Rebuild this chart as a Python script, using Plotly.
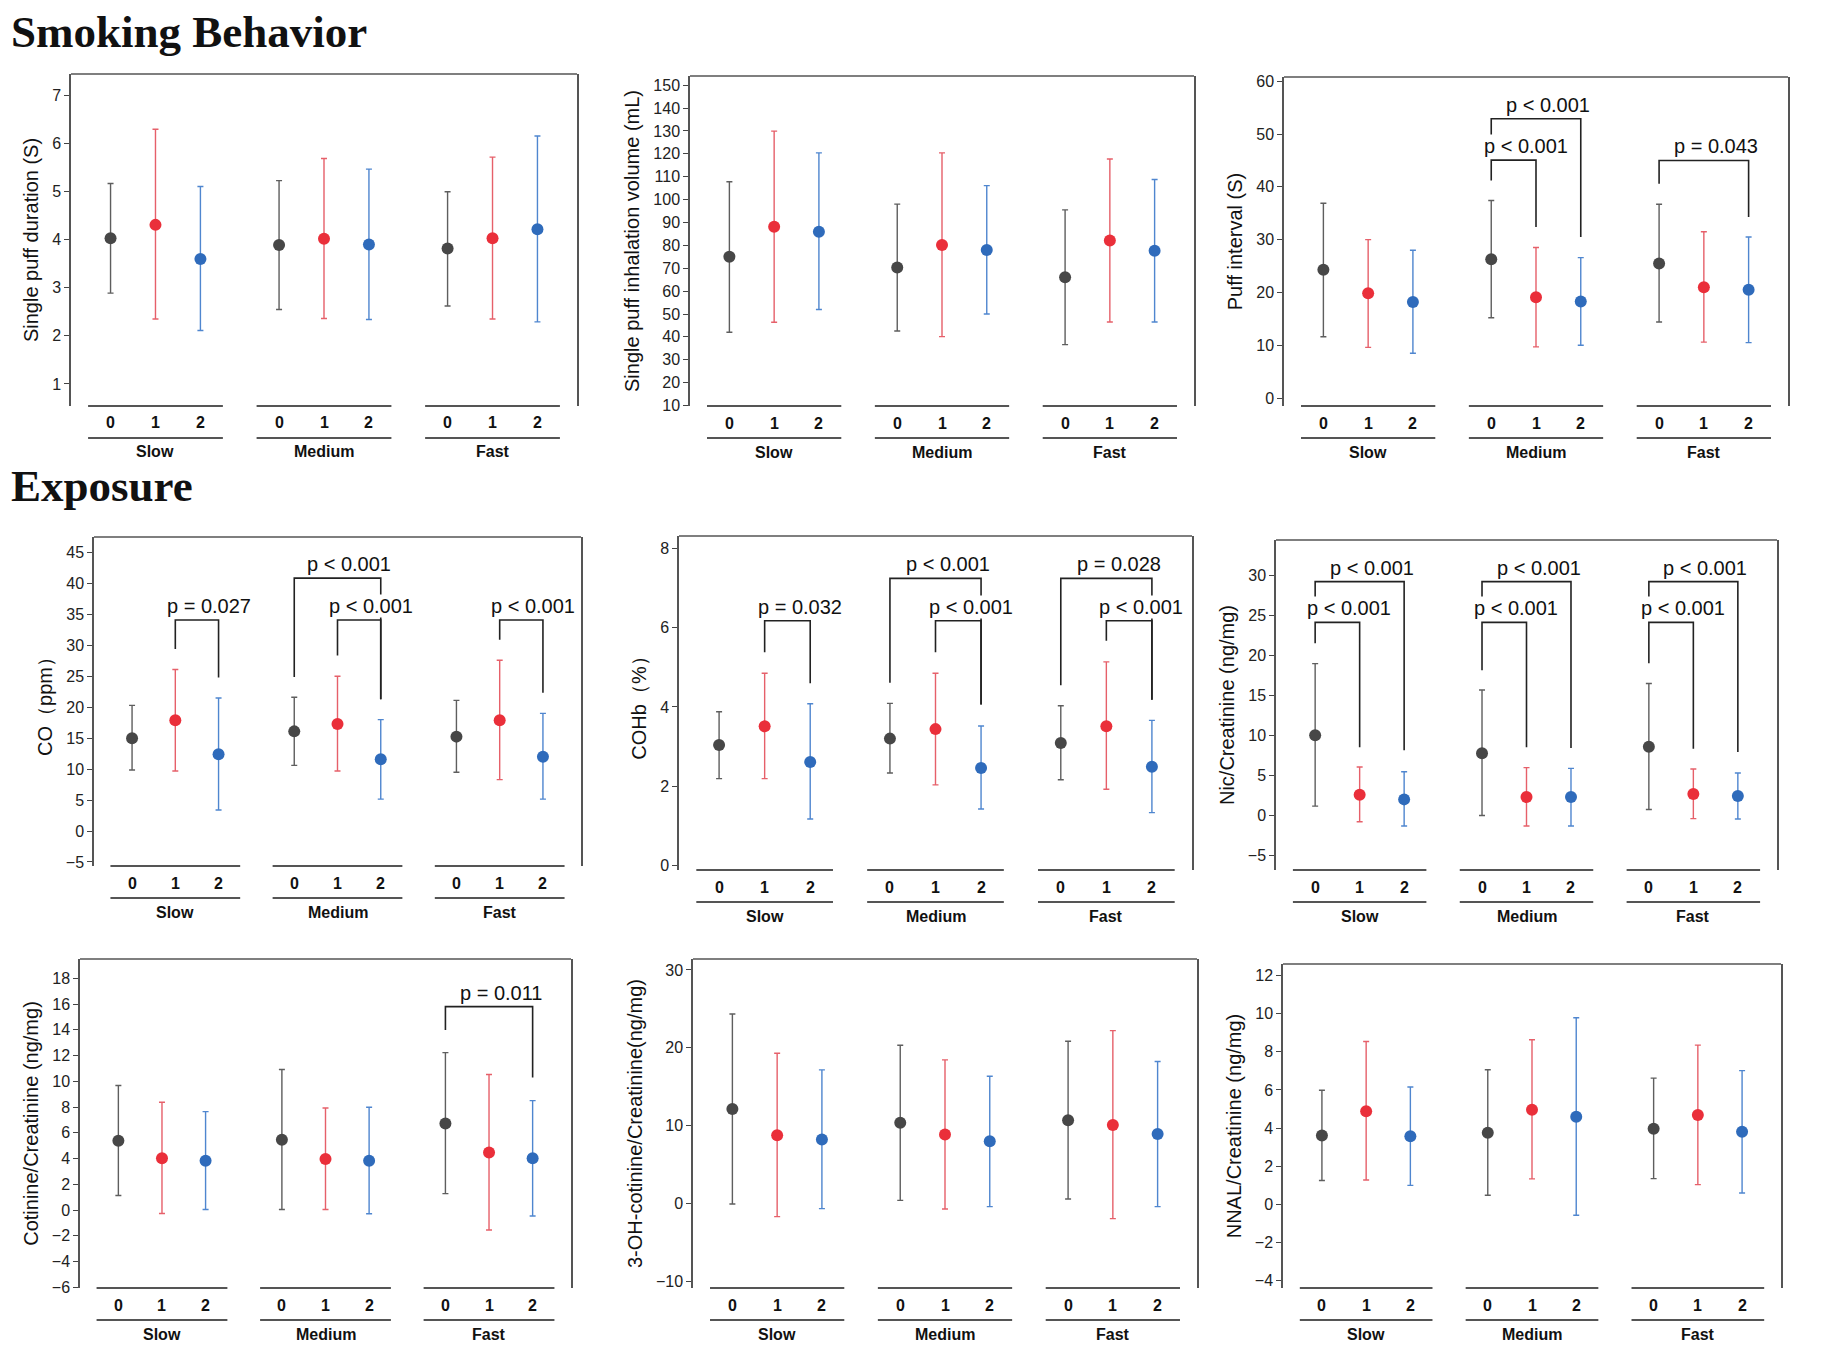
import plotly.graph_objects as go

# order inside every panel: Slow 0,1,2 | Medium 0,1,2 | Fast 0,1,2
groups = ["Slow", "Medium", "Fast"]
cats = ["0", "1", "2"]

puff_dur_mean = [4.03, 4.31, 3.60, 3.89, 4.02, 3.90, 3.82, 4.03, 4.22]
puff_dur_low = [2.89, 2.35, 2.11, 2.55, 2.36, 2.34, 2.62, 2.35, 2.29]
puff_dur_high = [5.17, 6.30, 5.11, 5.23, 5.69, 5.47, 5.00, 5.72, 6.16]

puff_vol_mean = [75.0, 88.1, 85.9, 70.3, 80.2, 78.0, 66.1, 82.1, 77.6]
puff_vol_low = [42.0, 46.4, 52.0, 42.6, 40.1, 50.0, 36.6, 46.5, 46.5]
puff_vol_high = [107.8, 129.9, 120.4, 98.0, 120.4, 106.1, 95.5, 117.7, 108.8]

puff_int_mean = [24.3, 19.85, 18.2, 26.3, 19.1, 18.3, 25.5, 21.0, 20.5]
puff_int_low = [11.6, 9.6, 8.5, 15.2, 9.7, 10.0, 14.4, 10.6, 10.5]
puff_int_high = [36.9, 30.0, 28.0, 37.4, 28.5, 26.6, 36.7, 31.5, 30.5]

co_mean = [15.0, 17.9, 12.4, 16.1, 17.3, 11.6, 15.25, 17.9, 12.0]
co_low = [9.85, 9.7, 3.4, 10.6, 9.7, 5.15, 9.5, 8.3, 5.15]
co_high = [20.3, 26.1, 21.5, 21.6, 25.0, 18.0, 21.1, 27.6, 19.0]

cohb_mean = [3.04, 3.51, 2.61, 3.20, 3.44, 2.46, 3.09, 3.51, 2.49]
cohb_low = [2.19, 2.19, 1.17, 2.33, 2.03, 1.42, 2.16, 1.92, 1.33]
cohb_high = [3.88, 4.85, 4.08, 4.09, 4.85, 3.52, 4.03, 5.14, 3.66]

nic_mean = [10.0, 2.56, 1.97, 7.75, 2.27, 2.27, 8.56, 2.64, 2.39]
nic_low = [1.13, -0.82, -1.36, -0.05, -1.36, -1.36, 0.70, -0.44, -0.49]
nic_high = [18.94, 6.02, 5.43, 15.65, 5.94, 5.85, 16.45, 5.77, 5.26]

cot_mean = [5.38, 4.02, 3.84, 5.46, 3.97, 3.84, 6.72, 4.48, 4.02]
cot_low = [1.13, -0.26, 0.05, 0.05, 0.05, -0.28, 1.28, -1.54, -0.46]
cot_high = [9.68, 8.37, 7.65, 10.92, 7.93, 7.99, 12.23, 10.53, 8.50]

ohcot_mean = [12.13, 8.76, 8.21, 10.38, 8.85, 8.00, 10.68, 10.08, 8.93]
ohcot_low = [-0.06, -1.68, -0.66, 0.40, -0.70, -0.40, 0.58, -1.94, -0.40]
ohcot_high = [24.33, 19.30, 17.16, 20.32, 18.44, 16.35, 20.83, 22.20, 18.23]

nnal_mean = [3.61, 4.88, 3.57, 3.76, 4.96, 4.60, 3.97, 4.69, 3.81]
nnal_low = [1.25, 1.28, 1.00, 0.48, 1.34, -0.57, 1.35, 1.04, 0.60]
nnal_high = [5.98, 8.54, 6.15, 7.06, 8.63, 9.78, 6.62, 8.35, 7.01]

# brackets: (group, cat_a, cat_b, top, end_a, end_b, label)
puff_int_sig = [(1, 0, 2, 52.9, 49.1, 30.5, "p < 0.001"),
                (1, 0, 1, 45.05, 41.2, 32.4, "p < 0.001"),
                (2, 0, 2, 45.0, 40.6, 34.3, "p = 0.043")]
co_sig = [(0, 1, 2, 34.1, 29.4, 24.8, "p = 0.027"),
          (1, 0, 2, 40.85, 24.9, 21.3, "p < 0.001"),
          (1, 1, 2, 34.1, 28.35, 21.3, "p < 0.001"),
          (2, 1, 2, 34.1, 30.9, 22.35, "p < 0.001")]
cohb_sig = [(0, 1, 2, 6.18, 5.38, 4.60, "p = 0.032"),
            (1, 0, 2, 7.25, 4.61, 4.06, "p < 0.001"),
            (1, 1, 2, 6.18, 5.38, 4.06, "p < 0.001"),
            (2, 0, 2, 7.25, 4.55, 4.18, "p = 0.028"),
            (2, 1, 2, 6.18, 5.67, 4.18, "p < 0.001")]
nic_sig = [(0, 0, 2, 29.2, 26.7, 8.1, "p < 0.001"),
           (0, 0, 1, 24.1, 21.5, 8.5, "p < 0.001"),
           (1, 0, 2, 29.2, 26.7, 8.4, "p < 0.001"),
           (1, 0, 1, 24.1, 18.1, 8.5, "p < 0.001"),
           (2, 0, 2, 29.2, 26.7, 7.9, "p < 0.001"),
           (2, 0, 1, 24.1, 19.0, 8.3, "p < 0.001")]
cot_sig = [(2, 0, 2, 15.8, 13.98, 10.3, "p = 0.011")]

W, H = 1826, 1371
GAP = 3.75
FONT = "Liberation Sans, Arial, sans-serif"
SERIF = "Liberation Serif, Times New Roman, serif"
marker_col = ["#474747", "#ea2f3a", "#2f6bbb"]
bar_col = ["#5e5e5e", "#e6606a", "#4f86cf"]

# panel: title, mean, low, high, y range, ticks, brackets, box (x0, x1, top, bottom) px
panels = [
    ("Single puff duration (S)", puff_dur_mean, puff_dur_low, puff_dur_high,
     [0.54, 7.45], (1, 7, 1), [], (63, 569, 66, 398)),
    ("Single puff inhalation volume (mL)", puff_vol_mean, puff_vol_low, puff_vol_high,
     [9.8, 154], (20, 150, 10), [], (682, 1186, 68, 398)),
    ("Puff interval (S)", puff_int_mean, puff_int_low, puff_int_high,
     [-1.5, 60.8], (0, 60, 10), puff_int_sig, (1276, 1780, 69, 398)),
    ("CO（ppm）", co_mean, co_low, co_high,
     [-5.65, 47.5], (-5, 45, 5), co_sig, (86, 573, 529, 858)),
    ("COHb（%）", cohb_mean, cohb_low, cohb_high,
     [-0.12, 8.32], (0, 8, 2), cohb_sig, (671, 1184, 528, 862)),
    ("Nic/Creatinine (ng/mg)", nic_mean, nic_low, nic_high,
     [-6.86, 34.4], (-5, 30, 5), nic_sig, (1268, 1769, 532, 862)),
    ("Cotinine/Creatinine (ng/mg)", cot_mean, cot_low, cot_high,
     [-6.05, 19.5], (-6, 18, 2), cot_sig, (72, 563, 951, 1280)),
    ("3-OH-cotinine/Creatinine(ng/mg)", ohcot_mean, ohcot_low, ohcot_high,
     [-10.85, 31.4], (-10, 30, 10), [], (685, 1189, 951, 1280)),
    ("NNAL/Creatinine (ng/mg)", nnal_mean, nnal_low, nnal_high,
     [-4.38, 12.6], (-4, 12, 2), [], (1275, 1773, 956, 1280)),
]

fig = go.Figure()
shapes = []
annotations = []
layout = {}

for i, (title, mean, low, high, yr, tk, sig, box) in enumerate(panels):
    n = "" if i == 0 else str(i + 1)
    xa, ya = "x" + n, "y" + n
    x0, x1, top, bot = box

    for c in range(3):
        xs = [g * GAP + c for g in range(3)]
        m = [mean[g * 3 + c] for g in range(3)]
        lo = [low[g * 3 + c] for g in range(3)]
        hi = [high[g * 3 + c] for g in range(3)]
        fig.add_trace(go.Scatter(
            x=xs, y=m, mode="markers", xaxis=xa, yaxis=ya, showlegend=False,
            marker=dict(color=marker_col[c], size=12),
            error_y=dict(type="data", symmetric=False,
                         array=[h - v for h, v in zip(hi, m)],
                         arrayminus=[v - l for v, l in zip(m, lo)],
                         color=bar_col[c], thickness=1.4, width=3),
            cliponaxis=False))

    layout["xaxis" + n] = dict(domain=[x0 / W, x1 / W], range=[-0.88, 2 * GAP + 2.88],
                               anchor=ya, visible=False, fixedrange=True)
    layout["yaxis" + n] = dict(
        domain=[1 - bot / H, 1 - top / H], range=yr, anchor=xa,
        tickmode="linear", tick0=tk[0], dtick=tk[2],
        ticks="outside", ticklen=5, tickwidth=1.2, tickcolor="#444",
        showline=True, mirror=True, linecolor="#555", linewidth=1.5,
        showgrid=False, zeroline=False, automargin=False,
        tickfont=dict(family=FONT, size=16, color="#222"),
        title=dict(text=title, font=dict(family=FONT, size=20, color="#111"), standoff=8))

    dom = xa + " domain"
    ydom = ya + " domain"
    shapes.append(dict(type="line", xref=dom, yref=ydom, x0=0, x1=1, y0=1, y1=1,
                       line=dict(color="#555", width=1.5)))
    for g, gname in enumerate(groups):
        gx = g * GAP
        shapes.append(dict(type="line", xref=xa, yref=ydom, x0=gx - 0.5, x1=gx + 2.5,
                           y0=0, y1=0, line=dict(color="#555", width=2)))
        shapes.append(dict(type="line", xref=xa, yref=ydom, ysizemode="pixel", yanchor=0,
                           x0=gx - 0.5, x1=gx + 2.5, y0=-32, y1=-32,
                           line=dict(color="#555", width=2)))
        for c, cname in enumerate(cats):
            annotations.append(dict(xref=xa, yref=ydom, x=gx + c, y=0, yshift=-17,
                                    yanchor="middle", showarrow=False, text=cname,
                                    font=dict(family=FONT, size=16, color="#111", weight="bold")))
        annotations.append(dict(xref=xa, yref=ydom, x=gx + 1, y=0, yshift=-46,
                                yanchor="middle", showarrow=False, text=gname,
                                font=dict(family=FONT, size=16, color="#111", weight="bold")))

    for g, ca, cb, ytop, ea, eb, label in sig:
        xa0, xb0 = g * GAP + ca, g * GAP + cb
        shapes.append(dict(type="path", xref=xa, yref=ya,
                           path=f"M {xa0},{ea} L {xa0},{ytop} L {xb0},{ytop} L {xb0},{eb}",
                           line=dict(color="#222", width=1.6)))
        annotations.append(dict(xref=xa, yref=ya, x=(xa0 + xb0) / 2 + 0.27, y=ytop,
                                yanchor="bottom", yshift=2, showarrow=False, text=label,
                                bgcolor="white", borderpad=0,
                                font=dict(family=FONT, size=20, color="#111")))

annotations.append(dict(xref="paper", yref="paper", x=2 / W, y=1 - 24 / H, xanchor="left",
                        yanchor="middle", showarrow=False, text="Smoking Behavior",
                        borderpad=0,
                        font=dict(family=SERIF, size=45, color="#111", weight="bold")))
annotations.append(dict(xref="paper", yref="paper", x=2 / W, y=1 - 478 / H, xanchor="left",
                        yanchor="middle", showarrow=False, text="Exposure",
                        borderpad=0,
                        font=dict(family=SERIF, size=45, color="#111", weight="bold")))

fig.update_layout(width=W, height=H, margin=dict(l=0, r=0, t=0, b=0),
                  paper_bgcolor="white", plot_bgcolor="white",
                  shapes=shapes, annotations=annotations, **layout)

fig.write_html("out.html")
